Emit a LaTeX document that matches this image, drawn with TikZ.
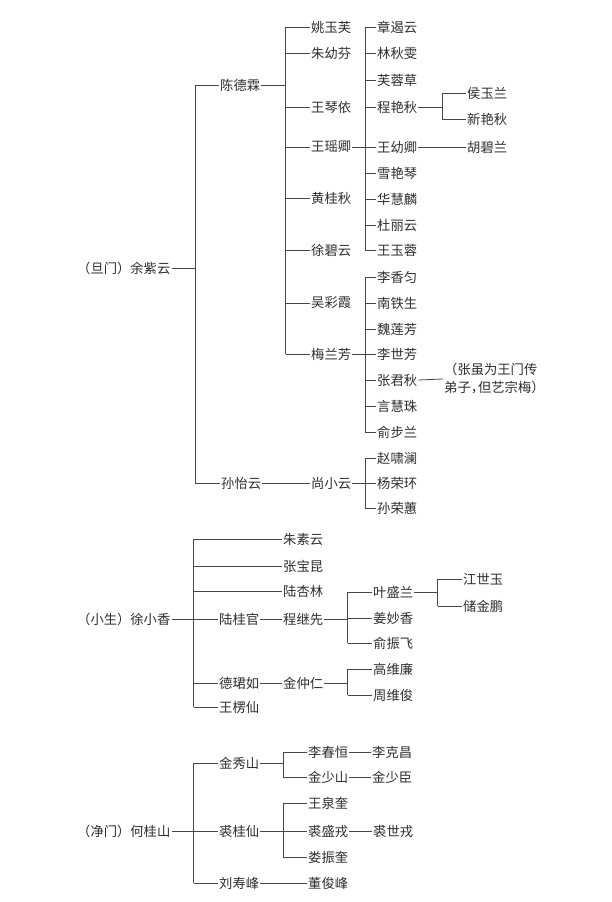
\documentclass[tikz,border=0pt]{standalone}
\usepackage{fontspec}
\setmainfont{Noto Sans CJK SC}
\begin{document}
\begin{tikzpicture}[x=1pt,y=-1pt,
  pers/.style={anchor=west,inner xsep=1pt,inner ysep=0pt,text=black!82,font=\fontsize{13.3}{18}\selectfont},
  conn/.style={draw=black!72,line width=0.8pt}]
\fill[white] (0,0) rectangle (611,902);
\useasboundingbox (0,0) rectangle (611,902);
\newcommand{\tbranch}[5]{%
  \draw[conn] (#1.east) -- (#2 |- #1.east);
  \draw[conn] (#2 |- #3.west) -- (#2 |- #4.west);
  \foreach \c in {#5} \draw[conn] (#2 |- \c.west) -- (\c.west);
}
% ---------- 旦门 ----------
\node[pers] (yzy) at (76,268) {（旦门）余紫云};
\node[pers] (cdl) at (219,85) {陈德霖};
\node[pers] (syy) at (220,483) {孙怡云};
\node[pers] (a1) at (310,27) {姚玉芙};
\node[pers] (a2) at (310,53) {朱幼芬};
\node[pers] (a3) at (310,107) {王琴依};
\node[pers] (a4) at (310,147) {王瑶卿};
\node[pers] (a5) at (310,198) {黄桂秋};
\node[pers] (a6) at (310,250) {徐碧云};
\node[pers] (a7) at (310,303) {吴彩霞};
\node[pers] (a8) at (310,354) {梅兰芳};
\node[pers] (b1) at (376,27) {章遏云};
\node[pers] (b2) at (376,53) {林秋雯};
\node[pers] (b3) at (376,80) {芙蓉草};
\node[pers] (b4) at (376,107) {程艳秋};
\node[pers] (b5) at (376,147) {王幼卿};
\node[pers] (b6) at (376,173) {雪艳琴};
\node[pers] (b7) at (376,199) {华慧麟};
\node[pers] (b8) at (376,225) {杜丽云};
\node[pers] (b9) at (376,250) {王玉蓉};
\node[pers] (c1) at (466,93) {侯玉兰};
\node[pers] (c2) at (466,119) {新艳秋};
\node[pers] (c3) at (466,147) {胡碧兰};
\node[pers] (m1) at (376,277) {李香匀};
\node[pers] (m2) at (376,303) {南铁生};
\node[pers] (m3) at (376,329) {魏莲芳};
\node[pers] (m4) at (376,354) {李世芳};
\node[pers] (m5) at (376,380) {张君秋};
\node[pers] (m6) at (376,406) {言慧珠};
\node[pers] (m7) at (376,432) {俞步兰};
\node[pers,align=left,font=\fontsize{13.3}{18}\selectfont] (note) at (443,379) {（张虽为王门传\\弟子，\kern-0.45em 但艺宗梅）};
\node[pers] (sxy) at (310,483) {尚小云};
\node[pers] (s1) at (376,458) {赵啸澜};
\node[pers] (s2) at (376,483) {杨荣环};
\node[pers] (s3) at (376,508) {孙荣蕙};
\coordinate (x1) at (195,0);
\coordinate (x2) at (285.5,0);
\coordinate (x3) at (365,0);
\coordinate (x4) at (442,0);
\tbranch{yzy}{x1}{cdl}{syy}{cdl,syy}
\tbranch{cdl}{x2}{a1}{a8}{a1,a2,a3,a4,a5,a6,a7,a8}
\tbranch{a4}{x3}{b1}{b9}{b1,b2,b3,b4,b5,b6,b7,b8,b9}
\tbranch{b4}{x4}{c1}{c2}{c1,c2}
\draw[conn] (b5.east) -- (c3.west);
\tbranch{a8}{x3}{m1}{m7}{m1,m2,m3,m4,m5,m6,m7}
\draw[conn] (m5.east) -- (note.west);
\draw[conn] (syy.east) -- (sxy.west);
\tbranch{sxy}{x3}{s1}{s3}{s1,s2,s3}
% ---------- 小生 ----------
\node[pers] (xxx) at (76,619) {（小生）徐小香};
\node[pers] (d1) at (282,539) {朱素云};
\node[pers] (d2) at (282,566) {张宝昆};
\node[pers] (d3) at (282,591) {陆杏林};
\node[pers] (d4) at (218,619) {陆桂官};
\node[pers] (d5) at (218,683) {德珺如};
\node[pers] (d6) at (218,707) {王楞仙};
\node[pers] (e1) at (282,619) {程继先};
\node[pers] (e2) at (282,683) {金仲仁};
\node[pers] (f1) at (372,592) {叶盛兰};
\node[pers] (f2) at (372,618) {姜妙香};
\node[pers] (f3) at (372,643) {俞振飞};
\node[pers] (g1) at (462,579) {江世玉};
\node[pers] (g2) at (462,606) {储金鹏};
\node[pers] (h1) at (372,669) {高维廉};
\node[pers] (h2) at (372,695) {周维俊};
\coordinate (y1) at (193.5,0);
\coordinate (y2) at (347.5,0);
\coordinate (y3) at (437.5,0);
\tbranch{xxx}{y1}{d1}{d6}{d1,d2,d3,d4,d5,d6}
\draw[conn] (d4.east) -- (e1.west);
\draw[conn] (d5.east) -- (e2.west);
\tbranch{e1}{y2}{f1}{f3}{f1,f2,f3}
\tbranch{f1}{y3}{g1}{g2}{g1,g2}
\tbranch{e2}{y2}{h1}{h2}{h1,h2}
% ---------- 净门 ----------
\node[pers] (hgs) at (76,831) {（净门）何桂山};
\node[pers] (j1) at (218,763) {金秀山};
\node[pers] (j2) at (218,831) {裘桂仙};
\node[pers] (j3) at (218,883) {刘寿峰};
\node[pers] (k1) at (307,752) {李春恒};
\node[pers] (k2) at (307,777) {金少山};
\node[pers] (k3) at (307,803) {王泉奎};
\node[pers] (k4) at (307,831) {裘盛戎};
\node[pers] (k5) at (307,857) {娄振奎};
\node[pers] (k6) at (307,883) {董俊峰};
\node[pers] (l1) at (371,752) {李克昌};
\node[pers] (l2) at (371,777) {金少臣};
\node[pers] (l3) at (372,831) {裘世戎};
\coordinate (z1) at (193.5,0);
\coordinate (z2) at (283,0);
\tbranch{hgs}{z1}{j1}{j3}{j1,j2,j3}
\tbranch{j1}{z2}{k1}{k2}{k1,k2}
\tbranch{j2}{z2}{k3}{k5}{k3,k4,k5}
\draw[conn] (j3.east) -- (k6.west);
\draw[conn] (k1.east) -- (l1.west);
\draw[conn] (k2.east) -- (l2.west);
\draw[conn] (k4.east) -- (l3.west);
\end{tikzpicture}
\end{document}
